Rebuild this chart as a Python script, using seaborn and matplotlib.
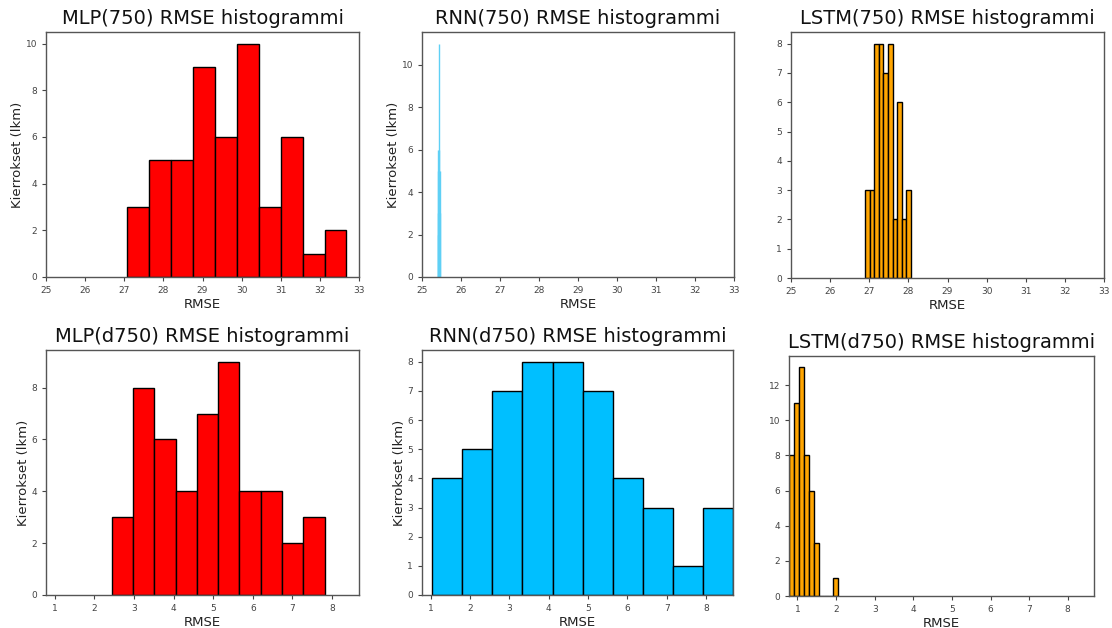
import numpy as np
import pandas as pd
import matplotlib
matplotlib.use("Agg")
import matplotlib.pyplot as plt
import seaborn as sns

sns.set_style("ticks")
plt.rcParams['font.family'] = ['DejaVu Sans']

# ---- data: histogram bin range (RMSE) and counts per bin (10 bins each) ----
titles = ["MLP(750) RMSE histogrammi", "RNN(750) RMSE histogrammi", "LSTM(750) RMSE histogrammi",
          "MLP(d750) RMSE histogrammi", "RNN(d750) RMSE histogrammi", "LSTM(d750) RMSE histogrammi"]

mlp750_range = [27.08, 32.68]
mlp750_counts = [3, 5, 5, 9, 6, 10, 3, 6, 1, 2]

rnn750_range = [25.40, 25.46]
rnn750_counts = [5, 6, 3, 2, 11, 6, 5, 4, 3, 5]

lstm750_range = [26.90, 28.06]
lstm750_counts = [3, 3, 8, 8, 7, 8, 2, 6, 2, 3]

mlpd750_range = [2.44, 7.81]
mlpd750_counts = [3, 8, 6, 4, 7, 9, 4, 4, 2, 3]

rnnd750_range = [1.04, 8.68]
rnnd750_counts = [4, 5, 7, 8, 8, 7, 4, 3, 1, 3]

lstmd750_range = [0.78, 2.06]
lstmd750_counts = [8, 11, 13, 8, 6, 3, 0, 0, 0, 1]

colors = ["#ff0000", "#00bfff", "#ffa500", "#ff0000", "#00bfff", "#ffa500"]
ylabel = "Kierrokset (lkm)"
xlabel = "RMSE"

panels = [
    (mlp750_range, mlp750_counts),
    (rnn750_range, rnn750_counts),
    (lstm750_range, lstm750_counts),
    (mlpd750_range, mlpd750_counts),
    (rnnd750_range, rnnd750_counts),
    (lstmd750_range, lstmd750_counts),
]

# axes boxes in pixels: left, top, right, bottom
W, H = 1112, 628
boxes = [
    (46, 32, 359, 277),
    (422, 32, 734, 277),
    (791, 32, 1104, 278),
    (46, 350, 359, 595),
    (422, 350, 733, 595),
    (789, 356, 1094, 596),
]
xlims = [(25, 33)] * 3 + [(0.78, 8.68)] * 3
has_ylabel = [True, True, False, True, True, False]

fig = plt.figure(figsize=(W / 100, H / 100), dpi=100)
for i, ((rng, counts), box) in enumerate(zip(panels, boxes)):
    l, t, r, b = box
    ax = fig.add_axes([l / W, 1 - b / H, (r - l) / W, (b - t) / H])
    edges = np.linspace(rng[0], rng[1], len(counts) + 1)
    centers = (edges[:-1] + edges[1:]) / 2
    df = pd.DataFrame({"rmse": centers, "n": np.asarray(counts, dtype=float)})
    if i == 1:
        ec, lw = "#5fd0f5", 1.0
    else:
        ec, lw = "black", 1.0
    sns.histplot(data=df, x="rmse", weights="n", bins=[float(e) for e in edges],
                 ax=ax, color=colors[i], alpha=1, edgecolor=ec,
                 linewidth=lw, stat="count")
    ax.set_xlim(*xlims[i])
    ax.set_ylim(0, max(counts) * 1.05)
    if i < 3:
        ax.set_xticks(range(25, 34))
    else:
        ax.set_xticks(range(1, 9))
    ax.set_title(titles[i], fontsize=14, color="#111111")
    ax.set_xlabel(xlabel, fontsize=9.5, color="#222222", labelpad=2)
    if has_ylabel[i]:
        ax.set_ylabel(ylabel, fontsize=9.5, color="#222222", labelpad=1)
    else:
        ax.set_ylabel("")
    ax.tick_params(labelsize=6.5, colors="#444444", length=3, width=0.8)
    for s in ax.spines.values():
        s.set_color("#555555")
        s.set_linewidth(1.0)

fig.savefig("out.png", dpi=100, facecolor="white")
